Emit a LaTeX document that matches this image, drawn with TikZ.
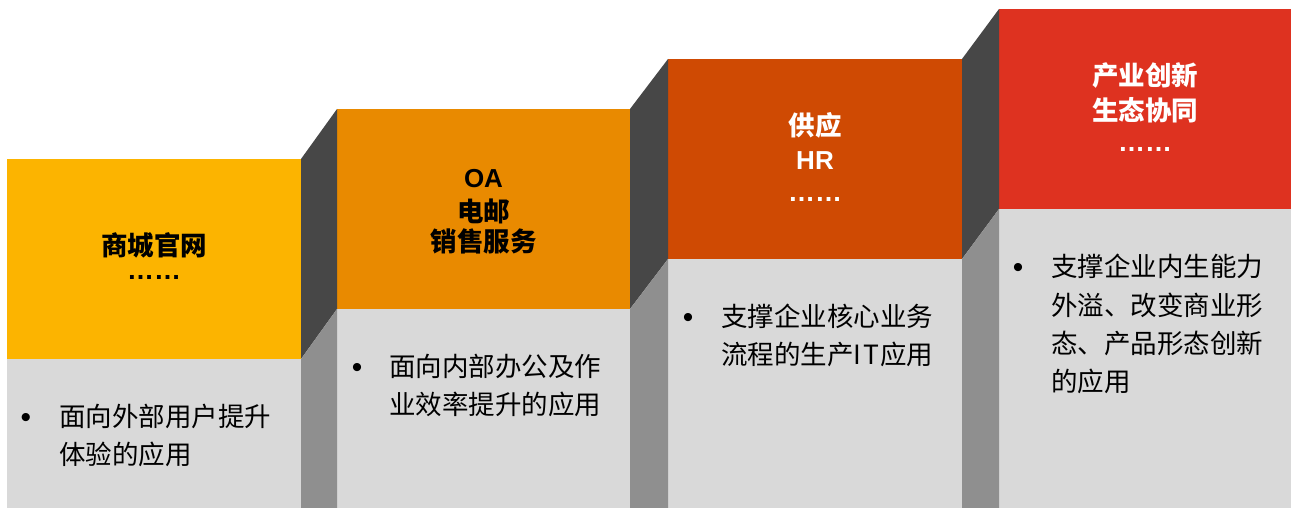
\documentclass[tikz,border=0pt]{standalone}
\usepackage{fontspec}
\setmainfont{Noto Sans CJK SC}
\newfontfamily\lat{Liberation Sans}
\definecolor{cA}{HTML}{FCB400}
\definecolor{cB}{HTML}{E98A00}
\definecolor{cC}{HTML}{CF4A03}
\definecolor{cD}{HTML}{DE3220}
\definecolor{sideDark}{HTML}{474747}
\definecolor{sideMid}{HTML}{8F8F8F}
\definecolor{bodyGrey}{HTML}{D9D9D9}
\tikzset{
  ttl/.style={anchor=base, inner sep=0pt, font=\fontsize{26.5}{30}\selectfont\bfseries},
  ttllat/.style={anchor=base, inner sep=0pt, font=\fontsize{26}{30}\selectfont\lat\bfseries},
  dots/.style={anchor=base, inner sep=0pt, font=\fontsize{27}{30}\selectfont\lat\bfseries},
  bodyline/.style={anchor=base west, inner sep=0pt, font=\fontsize{26.5}{38}\selectfont, text=black},
  bul/.style={anchor=base, inner sep=0pt, font=\fontsize{30}{30}\selectfont\lat, text=black}
}
\begin{document}
\begin{tikzpicture}[x=1pt,y=-1pt]
\useasboundingbox (0,0) rectangle (1291,508);
\fill[white] (0,0) rectangle (1291,508);
% boxes
\fill[cA] (7,159) rectangle (301,359);
\fill[bodyGrey] (7,359) rectangle (301,508);
\fill[cB] (337,109) rectangle (630,309);
\fill[bodyGrey] (337,309) rectangle (630,508);
\fill[cC] (668,59) rectangle (962,259);
\fill[bodyGrey] (668,259) rectangle (962,508);
\fill[cD] (999,9) rectangle (1291,209);
\fill[bodyGrey] (999,209) rectangle (1291,508);
% sides
\fill[sideDark] (301,159) -- (337,109) -- (337,309) -- (301,359) -- cycle;
\fill[sideMid] (301,359) -- (337,309) -- (337,508) -- (301,508) -- cycle;
\fill[sideDark] (630,109) -- (668,59) -- (668,259) -- (630,309) -- cycle;
\fill[sideMid] (630,309) -- (668,259) -- (668,508) -- (630,508) -- cycle;
\fill[sideDark] (962,59) -- (999,9) -- (999,209) -- (962,259) -- cycle;
\fill[sideMid] (962,259) -- (999,209) -- (999,508) -- (962,508) -- cycle;
% titles
\node[ttl, text=black] (t1a) at (154,255) {商城官网};
\node[dots, text=black] (t1b) at (154,279) {……};
\node[ttllat, text=black] (t2a) at (483.5,187) {OA};
\node[ttl, text=black] (t2b) at (483.5,221) {电邮};
\node[ttl, text=black] (t2c) at (483.5,251) {销售服务};
\node[ttl, text=white] (t3a) at (815,136) {供应};
\node[ttllat, text=white] (t3b) at (815,170) {HR};
\node[dots, text=white] (t3c) at (815,201) {……};
\node[ttl, text=white] (t4a) at (1145,86) {产业创新};
\node[ttl, text=white] (t4b) at (1145,121) {生态协同};
\node[dots, text=white] (t4c) at (1145,152) {……};
% bodies
\node[bul] (u1) at (26,427) {•};
\node[bodyline] (b1a) at (59,426) {面向外部用户提升};
\node[bodyline] (b1b) at (59,464) {体验的应用};
\node[bul] (u2) at (357,377) {•};
\node[bodyline] (b2a) at (389,376) {面向内部办公及作};
\node[bodyline] (b2b) at (389,414) {业效率提升的应用};
\node[bul] (u3) at (688,327) {•};
\node[bodyline] (b3a) at (721,326) {支撑企业核心业务};
\node[bodyline] (b3b) at (721,364) {流程的生产I\kern2ptT\kern1pt应用};
\node[bul] (u4) at (1018,277) {•};
\node[bodyline] (b4a) at (1051,276) {支撑企业内生能力};
\node[bodyline] (b4b) at (1051,315) {外溢、改变商业形};
\node[bodyline] (b4c) at (1051,353) {态、产品形态创新};
\node[bodyline] (b4d) at (1051,391) {的应用};
\end{tikzpicture}
\end{document}
